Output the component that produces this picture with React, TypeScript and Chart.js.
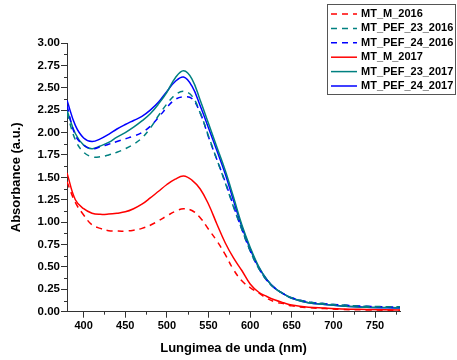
import React, { useEffect, useRef } from "react";
import { Chart, registerables } from "chart.js";

Chart.register(...registerables);

const wavelengths = [380, 390, 400, 410, 420, 430, 440, 450, 460, 470, 480, 490, 500, 510, 520, 530, 540, 550, 560, 570, 580, 590, 600, 610, 620, 630, 640, 650, 670, 690, 710, 740, 780];

const mtM2016 = [1.45, 1.22, 1.08, 0.97, 0.93, 0.905, 0.90, 0.90, 0.91, 0.93, 0.965, 1.015, 1.07, 1.12, 1.15, 1.13, 1.05, 0.92, 0.79, 0.64, 0.47, 0.345, 0.27, 0.21, 0.15, 0.11, 0.09, 0.065, 0.045, 0.035, 0.025, 0.02, 0.015];
const mtPef23_2016 = [2.22, 1.92, 1.78, 1.73, 1.73, 1.75, 1.78, 1.82, 1.87, 1.94, 2.05, 2.19, 2.32, 2.42, 2.46, 2.41, 2.22, 1.96, 1.70, 1.44, 1.17, 0.92, 0.68, 0.49, 0.35, 0.26, 0.20, 0.155, 0.11, 0.09, 0.075, 0.06, 0.055];
const mtPef24_2016 = [2.30, 1.97, 1.86, 1.82, 1.84, 1.87, 1.90, 1.93, 1.96, 2.00, 2.07, 2.17, 2.28, 2.37, 2.40, 2.38, 2.22, 1.95, 1.70, 1.45, 1.18, 0.92, 0.68, 0.49, 0.35, 0.26, 0.20, 0.155, 0.11, 0.09, 0.075, 0.06, 0.05];
const mtM2017 = [1.55, 1.25, 1.15, 1.10, 1.087, 1.09, 1.10, 1.115, 1.15, 1.20, 1.27, 1.345, 1.42, 1.48, 1.515, 1.47, 1.37, 1.20, 0.98, 0.77, 0.60, 0.46, 0.31, 0.22, 0.17, 0.13, 0.10, 0.075, 0.05, 0.04, 0.03, 0.025, 0.02];
const mtPef23_2017 = [2.25, 1.99, 1.86, 1.82, 1.85, 1.89, 1.95, 2.00, 2.06, 2.13, 2.21, 2.32, 2.45, 2.61, 2.69, 2.60, 2.36, 2.10, 1.84, 1.58, 1.28, 0.97, 0.72, 0.51, 0.36, 0.26, 0.20, 0.15, 0.10, 0.08, 0.065, 0.05, 0.045];
const mtPef24_2017 = [2.36, 2.08, 1.94, 1.90, 1.93, 1.98, 2.04, 2.09, 2.135, 2.18, 2.25, 2.34, 2.46, 2.57, 2.62, 2.52, 2.30, 2.05, 1.80, 1.54, 1.24, 0.95, 0.70, 0.50, 0.36, 0.26, 0.20, 0.15, 0.10, 0.08, 0.065, 0.05, 0.04];

const seriesNames = ["MT_M_2016", "MT_PEF_23_2016", "MT_PEF_24_2016", "MT_M_2017", "MT_PEF_23_2017", "MT_PEF_24_2017"];
const seriesValues = [mtM2016, mtPef23_2016, mtPef24_2016, mtM2017, mtPef23_2017, mtPef24_2017];
const seriesColors = ["#ff0000", "#008080", "#0000ff", "#ff0000", "#008080", "#0000ff"];
const seriesDashed = [true, true, true, false, false, false];

const xTicks = [400, 450, 500, 550, 600, 650, 700, 750];
const yTicks = [0, 0.25, 0.5, 0.75, 1, 1.25, 1.5, 1.75, 2, 2.25, 2.5, 2.75, 3];

const FONT = "'Liberation Sans', Arial, sans-serif";
const DASH = [6, 5];

const minorTicksPlugin = {
  id: "minorTicks",
  afterDraw(chart: any) {
    const ctx = chart.ctx;
    const xs = chart.scales.x;
    const ys = chart.scales.y;
    const area = chart.chartArea;
    ctx.save();
    ctx.strokeStyle = "#333";
    ctx.lineWidth = 1;
    ctx.beginPath();
    for (let i = 0; i < xTicks.length; i++) {
      const v = xTicks[i] + 25;
      if (v < xs.max) {
        const px = Math.round(xs.getPixelForValue(v)) + 0.5;
        ctx.moveTo(px, area.bottom);
        ctx.lineTo(px, area.bottom + 3);
      }
    }
    for (let i = 0; i < yTicks.length - 1; i++) {
      const v = yTicks[i] + 0.125;
      const py = Math.round(ys.getPixelForValue(v)) + 0.5;
      ctx.moveTo(area.left - 3, py);
      ctx.lineTo(area.left, py);
    }
    ctx.stroke();
    ctx.restore();
  },
};

const legendPlugin = {
  id: "boxLegend",
  afterDraw(chart: any) {
    const ctx = chart.ctx;
    ctx.save();
    ctx.strokeStyle = "#555";
    ctx.lineWidth = 1;
    ctx.setLineDash([]);
    ctx.strokeRect(327.5, 4.5, 128, 90);
    ctx.font = `bold 11px ${FONT}`;
    ctx.textBaseline = "middle";
    ctx.textAlign = "left";
    for (let i = 0; i < seriesNames.length; i++) {
      const y = 14 + i * 14.4;
      ctx.strokeStyle = seriesColors[i];
      ctx.lineWidth = 1.5;
      ctx.setLineDash(seriesDashed[i] ? DASH : []);
      ctx.beginPath();
      ctx.moveTo(331, y);
      ctx.lineTo(357, y);
      ctx.stroke();
      ctx.setLineDash([]);
      ctx.fillStyle = "#000";
      ctx.fillText(seriesNames[i], 361, y);
    }
    ctx.restore();
  },
};

export default function App() {
  const ref = useRef<HTMLCanvasElement | null>(null);

  useEffect(() => {
    if (!ref.current) return;
    const datasets = seriesNames.map((name, i) => ({
      label: name,
      data: wavelengths.map((w, j) => ({ x: w, y: seriesValues[i][j] })),
      borderColor: seriesColors[i],
      backgroundColor: seriesColors[i],
      borderWidth: 1.5,
      borderDash: seriesDashed[i] ? DASH : [],
      pointRadius: 0,
      tension: 0.4,
      fill: false,
    }));

    const chart = new Chart(ref.current, {
      type: "line",
      data: { datasets },
      plugins: [minorTicksPlugin, legendPlugin],
      options: {
        responsive: false,
        animation: false,
        layout: { padding: { top: 43, right: 57, left: 0, bottom: 0 } },
        plugins: { legend: { display: false }, tooltip: { enabled: false } },
        scales: {
          x: {
            type: "linear",
            min: 380,
            max: 780,
            afterBuildTicks: (scale: any) => {
              scale.ticks = xTicks.map((v) => ({ value: v }));
            },
            afterFit: (scale: any) => {
              scale.height = 48.3;
            },
            grid: { display: true, drawOnChartArea: false, drawTicks: true, tickLength: 6, color: "#333" },
            border: { display: true, color: "#333", width: 1 },
            ticks: {
              padding: 2,
              color: "#000",
              font: { family: FONT, size: 11, weight: "bold" },
              maxRotation: 0,
              callback: (v: any) => String(v),
            },
            title: {
              display: true,
              text: "Lungimea de unda (nm)",
              color: "#000",
              font: { family: FONT, size: 13, weight: "bold" },
              padding: { top: 4, bottom: 4 },
            },
          },
          y: {
            type: "linear",
            min: 0,
            max: 3,
            afterBuildTicks: (scale: any) => {
              scale.ticks = yTicks.map((v) => ({ value: v }));
            },
            afterFit: (scale: any) => {
              scale.width = 67;
            },
            grid: { display: true, drawOnChartArea: false, drawTicks: true, tickLength: 6, color: "#333" },
            border: { display: true, color: "#333", width: 1 },
            ticks: {
              padding: 1,
              color: "#000",
              font: { family: FONT, size: 11.5, weight: "bold" },
              callback: (v: any) => Number(v).toFixed(2),
            },
            title: {
              display: true,
              text: "Absorbance (a.u.)",
              color: "#000",
              font: { family: FONT, size: 13, weight: "bold" },
              padding: { top: 9, bottom: 4 },
            },
          },
        },
      },
    } as any);

    return () => chart.destroy();
  }, []);

  return (
    <div style={{ position: "absolute", left: 0, top: 0, width: 457, height: 360, background: "#fff" }}>
      <canvas ref={ref} width={457} height={360} style={{ display: "block" }} />
    </div>
  );
}
